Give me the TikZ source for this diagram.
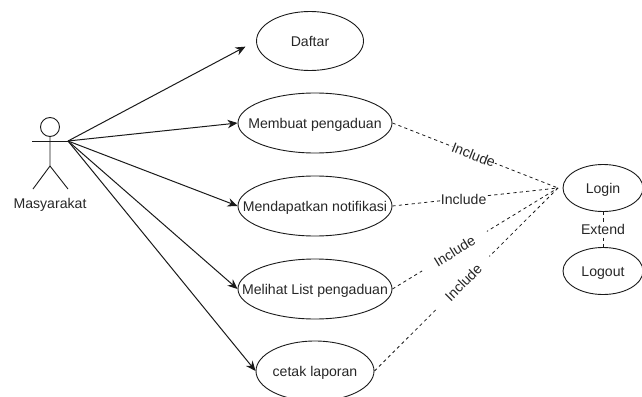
\documentclass[tikz,border=0pt]{standalone}
\usepackage{fontspec}
\setmainfont{Liberation Sans}
\usetikzlibrary{shapes.geometric,arrows.meta}
\definecolor{ink}{HTML}{1A1A1A}
\definecolor{txt}{HTML}{262626}
\newcommand{\ctext}[1]{\makebox[0pt][c]{\raisebox{-5.3pt}[0pt][0pt]{#1}}}
\tikzset{
  usecase/.style={ellipse,draw=ink,line width=0.9pt,inner sep=0pt,text=txt,font=\fontsize{14.1}{16}\selectfont},
  big/.style={usecase,minimum width=154pt,minimum height=60pt},
  flow/.style={draw=ink,line width=1pt,-{Stealth[length=10pt,width=8.5pt]}},
  incl/.style={draw=ink,line width=0.8pt,dash pattern=on 3.2pt off 3.2pt},
  lab/.style={fill=white,text=txt,font=\fontsize{14.1}{16}\selectfont,inner ysep=0pt,inner xsep=0pt},
  actorline/.style={draw=ink,line width=0.9pt}
}
\begin{document}
\begin{tikzpicture}[x=1pt,y=-1pt]
\useasboundingbox (0,0) rectangle (642,396);
% actor
\node[circle,draw=ink,line width=0.9pt,minimum size=19pt,inner sep=0pt] (head) at (50,127) {};
\coordinate (handL) at (32,141);
\coordinate (hand) at (68,141);
\coordinate (hip) at (50,166);
\coordinate (footL) at (33,189);
\coordinate (footR) at (68,189);
\draw[actorline] (head.south) -- (hip) -- (footL);
\draw[actorline] (hip) -- (footR);
\draw[actorline] (handL) -- (hand);
\node[text=txt,font=\fontsize{14.1}{16}\selectfont,inner sep=0pt] (actorname) at (50,205) {Masyarakat};
% use cases
\node[usecase,minimum width=107pt,minimum height=59pt] (daftar) at (310,41) {\ctext{Daftar}};
\node[big] (membuat) at (315,123) {\ctext{Membuat pengaduan}};
\node[big] (notif) at (315,206) {\ctext{Mendapatkan notifikasi}};
\node[big] (melihat) at (315,289) {\ctext{Melihat List pengaduan}};
\node[usecase,minimum width=118pt,minimum height=60pt] (cetak) at (315,371) {\ctext{cetak laporan}};
\node[usecase,minimum width=80pt,minimum height=47pt] (login) at (603,188) {\ctext{Login}};
\node[usecase,minimum width=80pt,minimum height=47pt] (logout) at (603,271) {\ctext{Logout}};
\coordinate (loginin) at (558,188);
% actor connectors
\draw[flow,shorten >=12pt] (hand) -- (daftar.west);
\draw[flow] (hand) -- (membuat.west);
\draw[flow] (hand) -- (notif.west);
\draw[flow] (hand) -- (melihat.west);
\draw[flow] (hand) -- (cetak.west);
% include connectors
\draw[incl] (membuat.east) -- (loginin) node[lab,pos=0.49,sloped] (l1) {Include};
\draw[incl] (notif.east) -- (loginin) node[lab,pos=0.43,yshift=-1pt] (l2) {Include};
\draw[incl] (melihat.east) -- (loginin) node[lab,pos=0.375,sloped,inner xsep=15pt,inner ysep=4pt] (l3) {Include};
\draw[incl] (cetak.east) -- (loginin) node[lab,pos=0.484,sloped,inner xsep=14pt,inner ysep=4pt] (l4) {Include};
\draw[incl] (login.south) -- (logout.north) node[lab,midway] (l5) {Extend};
\end{tikzpicture}
\end{document}
